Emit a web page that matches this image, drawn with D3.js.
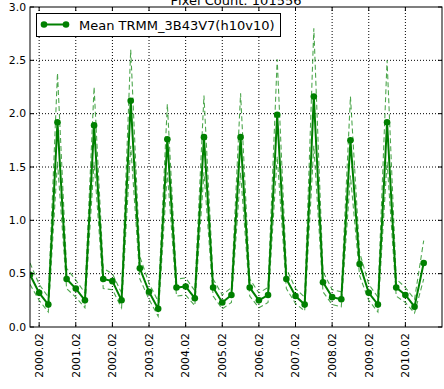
<!DOCTYPE html>
<html>
<head>
<meta charset="utf-8">
<script src="https://cdn.jsdelivr.net/npm/d3@7"></script>
<style>
  body { margin: 0; background: #fff; }
  text { font-family: "DejaVu Sans", sans-serif; fill: #000; }
</style>
</head>
<body>
<div id="chart"></div>
<script>
let w = 444;
let h = 389;

// quarterly samples, index 0 = 1999.11 ... index 43 = 2010.08
const meanVals = [0.49,0.32,0.21,1.92,0.45,0.36,0.25,1.89,0.45,0.43,0.25,2.12,0.55,0.33,0.17,1.76,
                  0.37,0.38,0.27,1.78,0.37,0.23,0.30,1.78,0.37,0.25,0.30,1.99,0.45,0.29,0.21,2.16,
                  0.42,0.28,0.26,1.75,0.59,0.32,0.21,1.92,0.37,0.30,0.19,0.60];
const upperVals = [0.60,0.40,0.28,2.38,0.55,0.44,0.32,2.25,0.55,0.50,0.32,2.60,0.66,0.41,0.24,2.09,
                   0.45,0.46,0.34,2.17,0.45,0.30,0.37,2.19,0.45,0.32,0.37,2.51,0.55,0.36,0.28,2.80,
                   0.52,0.35,0.33,2.16,0.70,0.40,0.28,2.50,0.45,0.37,0.26,0.81];
const lowerVals = [0.40,0.25,0.14,1.55,0.36,0.28,0.18,1.55,0.36,0.35,0.18,1.70,0.45,0.26,0.10,1.45,
                   0.29,0.30,0.20,1.45,0.29,0.17,0.23,1.45,0.29,0.18,0.23,1.60,0.36,0.22,0.15,1.70,
                   0.33,0.21,0.19,1.42,0.48,0.25,0.14,1.55,0.29,0.23,0.13,0.45];
const tickIdx = [1,5,9,13,17,21,25,29,33,37,41];
const tickLabels = ["2000.02","2001.02","2002.02","2003.02","2004.02","2005.02",
                    "2006.02","2007.02","2008.02","2009.02","2010.02"];
const yTicks = [0,0.5,1.0,1.5,2.0,2.5,3.0];
const title = "Pixel Count: 101556";
const legendLabel = "Mean TRMM_3B43V7(h10v10)";

const mLeft = 30, mRight = 442, mTop = 7, mBottom = 327;

let svg = d3.select("#chart")
    .append("svg")
    .attr("width", w)
    .attr("height", h);

let x = d3.scaleLinear().domain([0, 45]).range([mLeft, mRight]);
let y = d3.scaleLinear().domain([0, 3]).range([mBottom, mTop]);

svg.append("clipPath").attr("id", "clip")
    .append("rect")
    .attr("x", mLeft).attr("y", mTop)
    .attr("width", mRight - mLeft).attr("height", mBottom - mTop);

// grid
const grid = svg.append("g");
grid.selectAll("line.gy")
    .data(yTicks.slice(1, -1))
    .enter().append("line")
    .attr("x1", mLeft).attr("x2", mRight)
    .attr("y1", d => y(d)).attr("y2", d => y(d))
    .attr("stroke", "#000").attr("stroke-width", 1)
    .attr("stroke-dasharray", "1,2");
grid.selectAll("line.gx")
    .data(tickIdx)
    .enter().append("line")
    .attr("x1", d => x(d)).attr("x2", d => x(d))
    .attr("y1", mTop).attr("y2", mBottom)
    .attr("stroke", "#000").attr("stroke-width", 1)
    .attr("stroke-dasharray", "1,2");

const plot = svg.append("g").attr("clip-path", "url(#clip)");
let line = d3.line().x((d, i) => x(i)).y(d => y(d));

[upperVals, lowerVals].forEach(vals => {
    plot.append("path")
        .attr("d", line(vals))
        .attr("fill", "none")
        .attr("stroke", "green")
        .attr("stroke-opacity", 0.7)
        .attr("stroke-width", 1.1)
        .attr("stroke-dasharray", "5,3");
});

plot.append("path")
    .attr("d", line(meanVals))
    .attr("fill", "none")
    .attr("stroke", "green")
    .attr("stroke-width", 2);

plot.selectAll("circle")
    .data(meanVals)
    .enter().append("circle")
    .attr("cx", (d, i) => x(i))
    .attr("cy", d => y(d))
    .attr("r", 3.3)
    .attr("fill", "green");

// frame
svg.append("rect")
    .attr("x", mLeft).attr("y", mTop)
    .attr("width", mRight - mLeft).attr("height", mBottom - mTop)
    .attr("fill", "none").attr("stroke", "#000").attr("stroke-width", 1);

// inward ticks
const ticks = svg.append("g").attr("stroke", "#000").attr("stroke-width", 1);
tickIdx.forEach(t => {
    ticks.append("line").attr("x1", x(t)).attr("x2", x(t)).attr("y1", mBottom).attr("y2", mBottom - 4);
    ticks.append("line").attr("x1", x(t)).attr("x2", x(t)).attr("y1", mTop).attr("y2", mTop + 4);
});
yTicks.forEach(t => {
    ticks.append("line").attr("x1", mLeft).attr("x2", mLeft + 4).attr("y1", y(t)).attr("y2", y(t));
    ticks.append("line").attr("x1", mRight).attr("x2", mRight - 4).attr("y1", y(t)).attr("y2", y(t));
});

// tick labels
svg.selectAll("text.yl")
    .data(yTicks)
    .enter().append("text")
    .attr("x", mLeft - 4)
    .attr("y", d => y(d))
    .attr("dy", "0.35em")
    .attr("text-anchor", "end")
    .style("font-size", "10.8px")
    .text(d => d3.format(".1f")(d));

svg.selectAll("text.xl")
    .data(tickIdx)
    .enter().append("text")
    .attr("transform", d => `translate(${x(d)},${mBottom + 6}) rotate(-90)`)
    .attr("dy", "0.35em")
    .attr("text-anchor", "end")
    .style("font-size", "10.8px")
    .text((d, i) => tickLabels[i]);

// title (cut off by the top edge, as in the original)
svg.append("text")
    .attr("x", (mLeft + mRight) / 2)
    .attr("y", 4.5)
    .attr("text-anchor", "middle")
    .style("font-size", "13px")
    .text(title);

// legend
const lg = svg.append("g");
lg.append("rect")
    .attr("x", 36.5).attr("y", 13.5)
    .attr("width", 244).attr("height", 23)
    .attr("fill", "#fff").attr("stroke", "#000").attr("stroke-width", 1);
lg.append("line")
    .attr("x1", 44).attr("x2", 66).attr("y1", 24.5).attr("y2", 24.5)
    .attr("stroke", "green").attr("stroke-width", 2);
lg.selectAll("circle")
    .data([44, 66])
    .enter().append("circle")
    .attr("cx", d => d).attr("cy", 24.5).attr("r", 3.3)
    .attr("fill", "green");
lg.append("text")
    .attr("x", 79).attr("y", 29.5)
    .style("font-size", "13px")
    .text(legendLabel);
</script>
</body>
</html>
